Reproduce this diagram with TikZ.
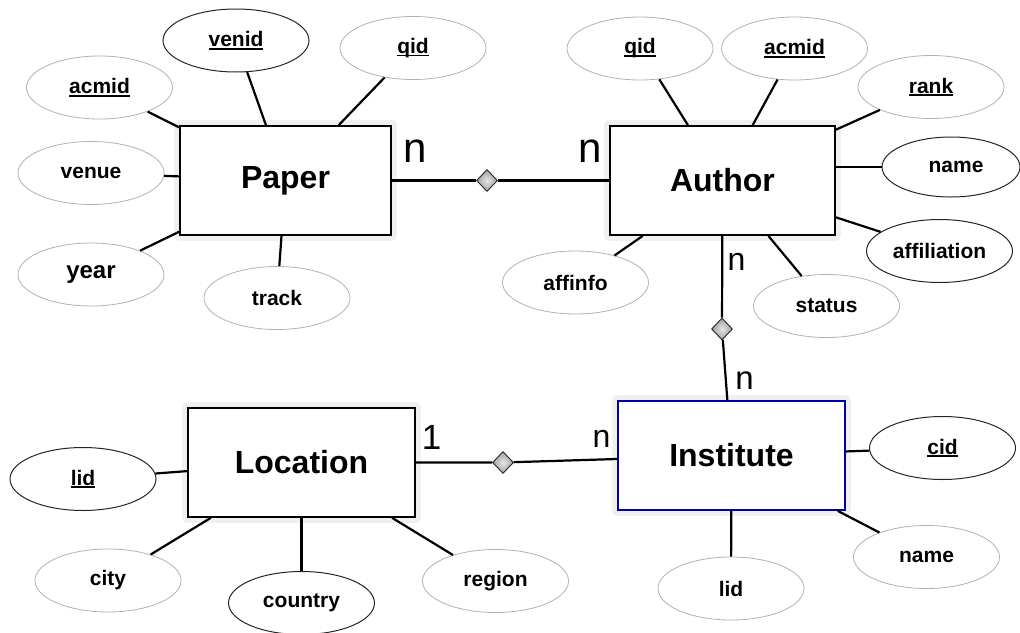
\documentclass[tikz,border=0pt]{standalone}
\usepackage{fontspec}
\setmainfont{Liberation Sans}
\usetikzlibrary{shapes.geometric}
% key attributes are underlined with a heavier rule than \underline gives
\newcommand{\keyattr}[1]{\setbox0\hbox{#1}\rlap{\rule[-3pt]{\wd0}{1.7pt}}\box0}
\begin{document}
\begin{tikzpicture}[x=1pt,y=-1pt,
  entity/.style={rectangle, draw=black, line width=1.7pt, fill=white, inner sep=0pt,
    minimum height=109pt, font=\fontsize{32}{36}\selectfont\bfseries,
    preaction={draw=gray!12, line width=12pt, line join=round}},
  attr/.style={ellipse, draw=gray!60, line width=0.8pt, fill=white, inner sep=0pt,
    minimum width=146pt, minimum height=63pt, font=\fontsize{21}{25}\selectfont\bfseries},
  darkattr/.style={attr, draw=black!85, line width=1pt},
  rel/.style={diamond, draw=gray!30!black, line width=0.9pt, inner color=gray!20,
    outer color=gray!75, inner sep=0pt, minimum width=21pt, minimum height=22pt},
  card/.style={inner sep=0pt, font=\fontsize{#1}{#1}\selectfont},
  link/.style={line width=2.2pt, black}]

\useasboundingbox[fill=white] (0,0) rectangle (1020,632);

% entities
\node[entity, minimum width=211pt] (paper) at (285.5,180.5) {Paper};
\node[entity, minimum width=225pt] (author) at (722.5,180.5) {Author};
\node[entity, minimum width=227pt] (location) at (301.5,462.5) {Location};
\node[entity, minimum width=227pt, draw=blue!65!black] (institute) at (731.5,455.5) {Institute};

% relationships
\node[rel] (writes) at (487,180.5) {};
\node[rel] (worksat) at (722,329) {};
\node[rel] (locatedin) at (503,462.5) {};

% attributes of Paper
\node[attr] (pacmid) at (99.5,87.5) {\keyattr{acmid}};
\node[darkattr] (pvenid) at (236,40.5) {\keyattr{venid}};
\node[attr] (pqid) at (413,48) {\keyattr{qid}};
\node[attr] (pvenue) at (91,173) {venue};
\node[attr, font=\fontsize{24}{28}\selectfont\bfseries] (pyear) at (91,274.5) {year};
\node[attr] (ptrack) at (277,298) {track};

% attributes of Author
\node[attr] (aqid) at (640,48.5) {\keyattr{qid}};
\node[attr] (aacmid) at (794.5,48.5) {\keyattr{acmid}};
\node[attr] (arank) at (931,87) {\keyattr{rank}};
\node[darkattr, minimum width=138pt, minimum height=60pt] (aname) at (951,167) {\hspace*{10pt}name};
\node[darkattr] (aaffil) at (939.5,251) {affiliation};
\node[attr] (astatus) at (826.5,306) {status};
\node[attr] (aaffinfo) at (575.5,282.5) {affinfo};

% attributes of Location
\node[darkattr] (llid) at (83,479) {\keyattr{lid}};
\node[attr] (lcity) at (108,580.5) {city};
\node[darkattr] (lcountry) at (301.5,603) {country};
\node[attr] (lregion) at (495.5,581) {region};

% attributes of Institute
\node[darkattr] (icid) at (942.5,448) {\keyattr{cid}};
\node[attr] (iname) at (926.5,557) {name};
\node[attr] (ilid) at (731,588.5) {lid};

% attribute links
\foreach \a in {pacmid,pvenid,pqid,pvenue,pyear,ptrack}
  \draw[link] (\a) -- (paper);
\foreach \a in {aqid,aacmid,arank,aaffil,astatus,aaffinfo}
  \draw[link] (\a) -- (author);
\draw[link] (author.east |- aname.west) -- (aname.west);
\foreach \a in {llid,lcity,lcountry,lregion}
  \draw[link] (\a) -- (location);
\foreach \a in {icid,iname,ilid}
  \draw[link] (\a) -- (institute);

% relationship links
\draw[link] (paper) -- (writes) -- (author);
\draw[link] (author) -- (worksat) -- (institute);
\draw[link] (location) -- (locatedin) -- (institute);

% cardinalities
\node[card=42] (c1) at (415.5,151.5) {n};
\node[card=42] (c2) at (590,151.5) {n};
\node[card=32] (c3) at (736.5,262) {n};
\node[card=33] (c4) at (744.5,381) {n};
\node[card=35] (c5) at (431.5,437.5) {1};
\node[card=32] (c6) at (601.5,438.5) {n};
\end{tikzpicture}
\end{document}
